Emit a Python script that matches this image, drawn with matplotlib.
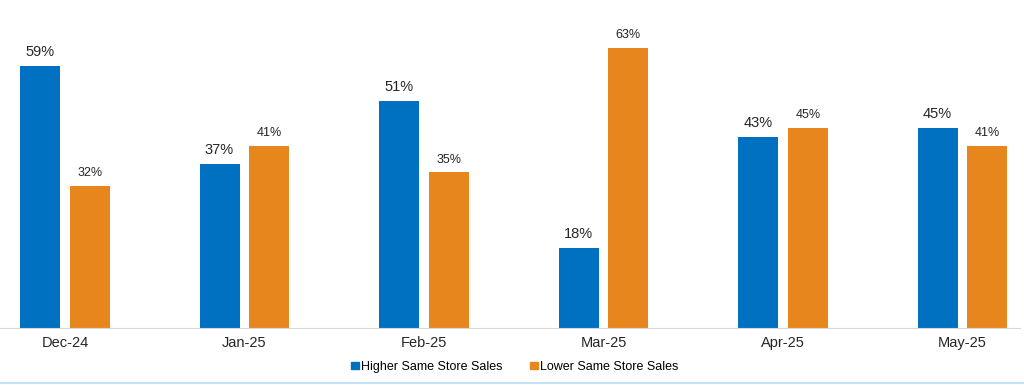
import numpy as np
import matplotlib.pyplot as plt
from matplotlib.lines import Line2D
from matplotlib.patches import Patch

plt.rcParams['font.family'] = ['Liberation Sans', 'DejaVu Sans']

months = ['Dec-24', 'Jan-25', 'Feb-25', 'Mar-25', 'Apr-25', 'May-25']
higher = [59, 37, 51, 18, 43, 45]
lower = [32, 41, 35, 63, 45, 41]

blue = '#0070C0'
orange = '#E8861E'

fig = plt.figure(figsize=(10.24, 3.85), dpi=100)
ax = fig.add_axes([0.0, 0.148, 0.996, 0.808])

x = np.arange(len(months))
w = 0.223
off = 0.139
ax.bar(x - off, higher, w, color=blue, label='Higher Same Store Sales')
ax.bar(x + off, lower, w, color=orange, label='Lower Same Store Sales')

# value labels above the bars
for xi, v in zip(x, higher):
    ax.annotate('%d%%' % v, (xi - off, v), xytext=(0, 5), textcoords='offset points',
                ha='center', va='bottom', fontsize=10.5, color='#262626')
for xi, v in zip(x, lower):
    ax.annotate('%d%%' % v, (xi + off, v), xytext=(0, 5), textcoords='offset points',
                ha='center', va='bottom', fontsize=9, color='#262626')

ax.set_xlim(-0.362, 5.32)
ax.set_ylim(0, 70)
ax.set_xticks(x)
ax.set_xticklabels(months, fontsize=10.5, color='#262626')
ax.tick_params(axis='x', length=0, pad=6)
ax.set_yticks([])
for s in ['top', 'right', 'left']:
    ax.spines[s].set_visible(False)
ax.spines['bottom'].set_color('#D9D9D9')

handles = [Patch(color=blue), Patch(color=orange)]
fig.legend(handles, ['Higher Same Store Sales', 'Lower Same Store Sales'],
           loc='center', bbox_to_anchor=(0.503, 0.047), ncol=2, frameon=False,
           fontsize=9, handlelength=0.6, handleheight=0.6, handletextpad=0.2,
           columnspacing=2.2)

fig.add_artist(Line2D([0, 1], [0.006, 0.006], color='#C5E3F5', lw=1.5))

fig.savefig('out.png', dpi=100)
